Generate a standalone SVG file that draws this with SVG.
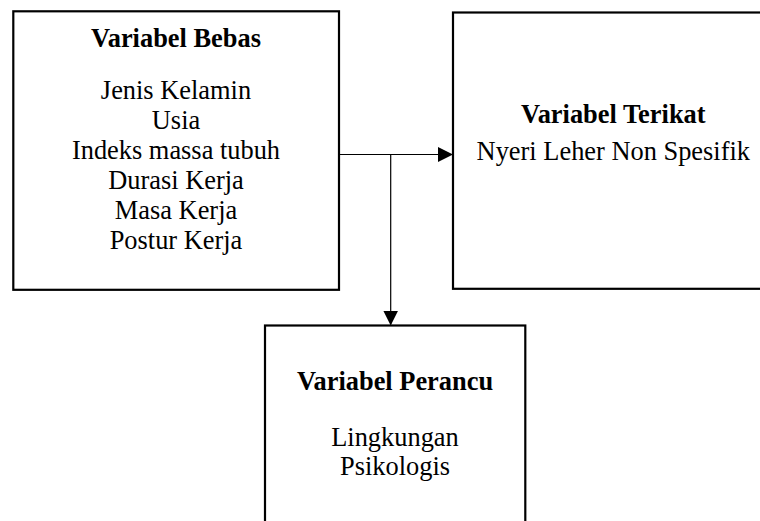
<svg xmlns="http://www.w3.org/2000/svg" width="760" height="521" viewBox="0 0 760 521">
<defs>
<style>
.box{fill:#fff;stroke:#000;stroke-width:2.2}
.t{font-family:"Liberation Serif","Times New Roman",serif;font-size:26.4px;text-anchor:middle;fill:#000}
.b{font-weight:bold;font-size:26.4px}
.ln{stroke:#000;stroke-width:1.2;fill:none}
</style>
<marker id="ah" markerWidth="16" markerHeight="16" refX="14" refY="7.5" orient="auto" markerUnits="userSpaceOnUse">
<path d="M0,0 L15,7.5 L0,15 Z" fill="#000"/>
</marker>
</defs>
<rect width="760" height="521" fill="#fff"/>
<g id="connectors">
<line class="ln" x1="339" y1="154.5" x2="452" y2="154.5" marker-end="url(#ah)"/>
<line class="ln" x1="390.7" y1="154.5" x2="390.7" y2="324.5" marker-end="url(#ah)"/>
</g>
<g id="bebas">
<rect class="box" x="13.3" y="11.3" width="325.7" height="278.5"/>
<text class="t b" x="176" y="46.5">Variabel Bebas</text>
<text class="t" x="176" y="99">Jenis Kelamin</text>
<text class="t" x="176" y="129">Usia</text>
<text class="t" x="176" y="159">Indeks massa tubuh</text>
<text class="t" x="176" y="189">Durasi Kerja</text>
<text class="t" x="176" y="219">Masa Kerja</text>
<text class="t" x="176" y="249">Postur Kerja</text>
</g>
<g id="terikat">
<rect class="box" x="453" y="12.5" width="322" height="276.3"/>
<text class="t b" x="613.3" y="123.3">Variabel Terikat</text>
<text class="t" x="613.3" y="160">Nyeri Leher Non Spesifik</text>
</g>
<g id="perancu">
<rect class="box" x="265" y="325.5" width="260.3" height="220"/>
<text class="t b" x="395" y="390">Variabel Perancu</text>
<text class="t" x="395" y="445.5">Lingkungan</text>
<text class="t" x="395" y="475">Psikologis</text>
</g>
</svg>
